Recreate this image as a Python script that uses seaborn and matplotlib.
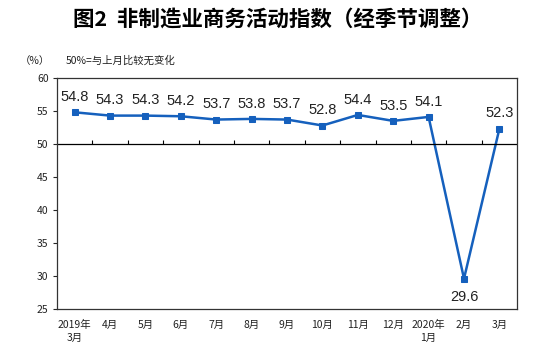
import numpy as np
import pandas as pd
import matplotlib
matplotlib.use('Agg')
import matplotlib.pyplot as plt
import seaborn as sns

# data
months = ['2019年\n3月', '4月', '5月', '6月', '7月', '8月', '9月', '10月',
          '11月', '12月', '2020年\n1月', '2月', '3月']
index_values = [54.8, 54.3, 54.3, 54.2, 53.7, 53.8, 53.7, 52.8,
                54.4, 53.5, 54.1, 29.6, 52.3]
y_ticks = [25, 30, 35, 40, 45, 50, 55, 60]

sns.set_style('white')
plt.rcParams['font.family'] = ['Noto Sans CJK SC', 'DejaVu Sans']

df = pd.DataFrame({'pos': np.arange(len(months)), 'value': index_values})

fig = plt.figure(figsize=(5.56, 3.61), dpi=100)
ax = fig.add_axes([0.1025, 0.144, 0.8275, 0.64])

line_color = '#1560bd'
sns.lineplot(data=df, x='pos', y='value', ax=ax, color=line_color,
             linewidth=1.8, marker='s', markersize=4.5,
             markeredgecolor=line_color, markerfacecolor=line_color)

# value labels, Arial-like font as in the original
for x, v in zip(df['pos'], df['value']):
    if v < 40:
        ax.annotate(f'{v}', (x, v), xytext=(0, -8), textcoords='offset points',
                    ha='center', va='top', fontsize=10.5, color='#222222',
                    family='Liberation Sans')
    else:
        ax.annotate(f'{v}', (x, v), xytext=(0, 6), textcoords='offset points',
                    ha='center', va='bottom', fontsize=10.5, color='#222222',
                    family='Liberation Sans')

# 50 line acts as the category axis
ax.axhline(50, color='black', linewidth=0.9)
ax.vlines(np.arange(0.5, len(months) - 1, 1), 50, 50.6, color='black', linewidth=0.8)

ax.set_xlim(-0.5, len(months) - 0.5)
ax.set_ylim(25, 60)
ax.set_yticks(y_ticks)
ax.set_yticklabels([str(t) for t in y_ticks], fontsize=7.5, color='#222222')
ax.set_xticks(df['pos'])
ax.set_xticklabels(months, fontsize=7.5, color='#222222', linespacing=1.3)
ax.tick_params(axis='x', length=0, pad=8)
ax.tick_params(axis='y', length=3, direction='out', width=0.8, left=True, pad=3)
ax.set_xlabel('')
ax.set_ylabel('')

for s in ax.spines.values():
    s.set_color('#333333')
    s.set_linewidth(0.9)

fig.text(0.5, 0.948, '图2  非制造业商务活动指数（经季节调整）', ha='center', va='center',
         fontsize=15.5, fontweight='bold', color='black')
fig.text(0.063, 0.832, '（%）', ha='center', va='center', fontsize=7.5, color='#222222')
fig.text(0.118, 0.832, '50%=与上月比较无变化', ha='left', va='center', fontsize=7.5,
         color='#222222')

fig.savefig('out.png', dpi=100)
